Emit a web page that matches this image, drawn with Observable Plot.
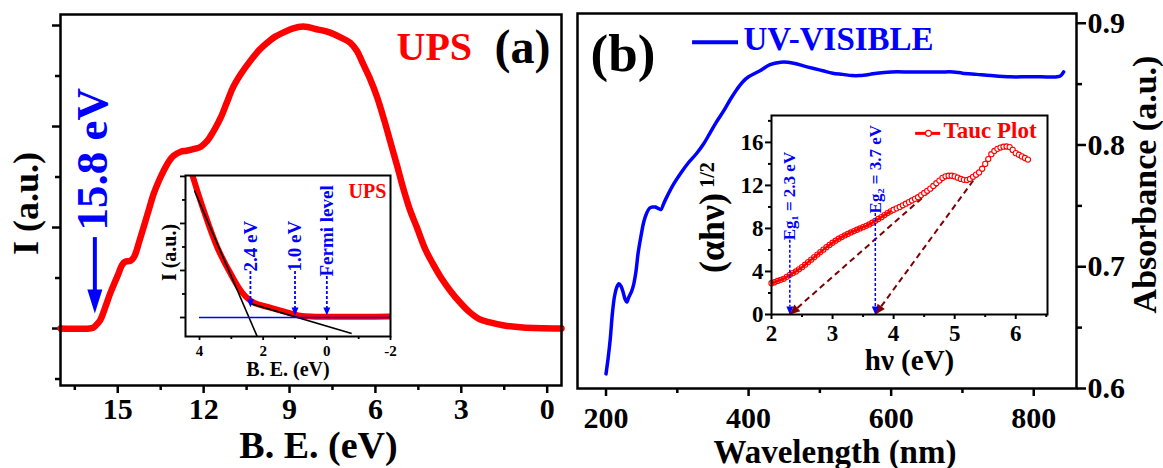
<!DOCTYPE html>
<html>
<head>
<meta charset="utf-8">
<script src="https://cdn.jsdelivr.net/npm/d3@7"></script>
<script src="https://cdn.jsdelivr.net/npm/@observablehq/plot@0.6"></script>
<style>
  body { margin: 0; background: white; }
  #c { position: relative; width: 1163px; height: 468px; background: white; overflow: hidden; }
</style>
</head>
<body>
<div id="c"></div>
<script>
// ---------------- DATA ----------------
// Panel (a): UPS spectrum, binding energy (eV) vs intensity (a.u.)
const upsBE = [17.0, 16.0, 15.85, 15.7, 15.6, 15.45, 15.26, 15.1, 14.98, 14.85, 14.75, 14.56, 14.45, 14.38, 14.25, 14.1, 13.9, 13.75, 13.55, 13.4, 13.2, 13.05, 12.8, 12.6, 12.3, 12.1, 11.9, 11.77, 11.6, 11.4, 11.2, 10.97, 10.7, 10.37, 10.05, 9.78, 9.5, 9.22, 8.9, 8.52, 8.0, 7.58, 7.2, 6.88, 6.65, 6.43, 6.2, 5.94, 5.7, 5.49, 5.25, 5.04, 4.8, 4.55, 4.25, 3.99, 3.7, 3.4, 3.05, 2.7, 2.35, 2.0, 1.5, 0.85, -0.5];
const upsI  = [0.0, 0.0, 0.01, 0.05, 0.09, 0.2, 0.35, 0.46, 0.54, 0.63, 0.66, 0.67, 0.70, 0.74, 0.86, 1.0, 1.19, 1.33, 1.47, 1.56, 1.66, 1.71, 1.75, 1.76, 1.78, 1.80, 1.85, 1.90, 1.98, 2.09, 2.23, 2.39, 2.52, 2.65, 2.76, 2.83, 2.89, 2.93, 2.97, 2.99, 2.96, 2.93, 2.88, 2.83, 2.75, 2.62, 2.48, 2.29, 2.07, 1.86, 1.62, 1.40, 1.18, 1.0, 0.78, 0.64, 0.5, 0.38, 0.26, 0.16, 0.09, 0.06, 0.03, 0.01, 0.0];
const onsetBE = 15.8;

// Inset (a): valence band edge region
const insBE = [4.30, 4.22, 3.87, 3.44, 3.03, 2.66, 2.31, 1.78, 1.25, 0.84, 0.5, -2.0];
const insI  = [3.20, 3.02, 2.28, 1.49, 0.94, 0.53, 0.32, 0.21, 0.11, 0.04, 0.02, 0.02];
const fitLines = [
  {x1: 4.16, y1: 2.70, x2: 2.19, y2: -0.40},
  {x1: 2.41, y1: 0.30, x2: -0.78, y2: -0.34}
];
const insArrowBE = [2.4, 1.0, 0.0];
const insArrowLabel = ["2.4 eV", "1.0 eV", "Fermi level"];
const insArrowTip = [0.22, 0.04, 0.04];
const insArrowTop = [0.98, 0.98, 0.87];

// Panel (b): UV-visible absorbance
const uvWl  = [200, 203, 206, 209, 212, 215, 218, 221, 224, 227, 229, 232, 236, 239, 242, 245, 249, 253, 257, 261, 265, 269, 273, 277, 281, 285, 295, 305, 315, 327, 337, 346, 355, 365, 375, 384, 392, 400, 416, 430, 445, 455, 465, 477, 490, 504, 518, 532, 545, 556, 570, 580, 600, 627, 650, 670, 687, 700, 720, 740, 767, 790, 810, 833, 838, 842];
const uvAbs = [0.612, 0.625, 0.641, 0.662, 0.676, 0.683, 0.686, 0.684, 0.679, 0.673, 0.671, 0.675, 0.680, 0.686, 0.696, 0.711, 0.725, 0.737, 0.744, 0.748, 0.749, 0.749, 0.748, 0.747, 0.752, 0.757, 0.768, 0.777, 0.785, 0.793, 0.801, 0.810, 0.819, 0.828, 0.838, 0.846, 0.852, 0.856, 0.861, 0.866, 0.868, 0.868, 0.867, 0.865, 0.863, 0.861, 0.859, 0.858, 0.857, 0.857, 0.858, 0.859, 0.860, 0.860, 0.860, 0.860, 0.860, 0.859, 0.858, 0.857, 0.856, 0.856, 0.856, 0.856, 0.857, 0.860];

// Inset (b): Tauc plot
const taucE = [2.00, 2.05, 2.10, 2.15, 2.20, 2.25, 2.30, 2.35, 2.40, 2.45, 2.50, 2.55, 2.60, 2.65, 2.70, 2.75, 2.80, 2.85, 2.90, 2.95, 3.00, 3.05, 3.10, 3.15, 3.20, 3.25, 3.30, 3.35, 3.40, 3.45, 3.50, 3.55, 3.60, 3.65, 3.70, 3.75, 3.80, 3.85, 3.90, 3.95, 4.00, 4.05, 4.10, 4.15, 4.20, 4.25, 4.30, 4.35, 4.40, 4.45, 4.50, 4.55, 4.60, 4.65, 4.70, 4.75, 4.80, 4.85, 4.90, 4.95, 5.00, 5.05, 5.10, 5.15, 5.20, 5.25, 5.30, 5.35, 5.40, 5.45, 5.50, 5.55, 5.60, 5.65, 5.70, 5.75, 5.80, 5.85, 5.90, 5.95, 6.00, 6.05, 6.10, 6.15, 6.20];
const taucV = [2.91, 3.00, 3.12, 3.22, 3.32, 3.50, 3.69, 3.85, 4.00, 4.20, 4.40, 4.63, 4.87, 5.10, 5.33, 5.57, 5.80, 6.03, 6.26, 6.47, 6.67, 6.86, 7.04, 7.20, 7.35, 7.49, 7.63, 7.76, 7.88, 8.00, 8.12, 8.24, 8.37, 8.53, 8.71, 8.88, 9.05, 9.24, 9.43, 9.59, 9.74, 9.87, 10.0, 10.15, 10.3, 10.45, 10.6, 10.75, 10.9, 11.1, 11.3, 11.5, 11.7, 11.95, 12.2, 12.45, 12.7, 12.85, 12.9, 12.9, 12.84, 12.72, 12.6, 12.52, 12.5, 12.6, 12.8, 13.0, 13.2, 13.55, 14.0, 14.45, 14.9, 15.2, 15.4, 15.52, 15.6, 15.62, 15.56, 15.3, 15.0, 14.85, 14.7, 14.55, 14.4];
const taucFits = [
  {x1: 2.3, y1: 0, x2: 4.9, y2: 13.0},
  {x1: 3.7, y1: 0, x2: 5.58, y2: 14.6}
];
const egValues = [2.3, 3.7];
const egLabels = ["Eg\u2081 = 2.3 eV", "Eg\u2082 = 3.7 eV"];
const egTop = [6.9, 9.4];

// Tick values
const aXTicks = [15, 12, 9, 6, 3, 0];
const aXMinor = [16.5, 13.5, 10.5, 7.5, 4.5, 1.5];
const aYTicks = [0, 1, 2, 3];
const aYMinor = [-0.5, 0.5, 1.5, 2.5];
const iaXTicks = [4, 2, 0, -2];
const iaXMinor = [3, 1, -1];
const iaYTicks = [0, 1, 2, 3];
const iaYMinor = [0.5, 1.5, 2.5];
const bXTicks = [200, 400, 600, 800];
const bXMinor = [300, 500, 700];
const bYTicks = [0.6, 0.7, 0.8, 0.9];
const bYMinor = [0.65, 0.75, 0.85];
const ibXTicks = [2, 3, 4, 5, 6];
const ibXMinor = [2.5, 3.5, 4.5, 5.5, 6.5];
const ibYTicks = [0, 4, 8, 12, 16];
const ibYMinor = [2, 6, 10, 14, 18];

// ---------------- BUILD ----------------
const FONT = "'Liberation Serif', 'Times New Roman', serif";
const RED = "#ff0000", BLUE = "#0000ff", MAROON = "#800000";
const ups = upsBE.map((b, i) => ({be: b, v: upsI[i]}));
const ins = insBE.map((b, i) => ({be: b, v: insI[i]}));
const uv = uvWl.map((w, i) => ({wl: w, a: uvAbs[i]}));
const tauc = taucE.map((e, i) => ({e, v: taucV[i]}));
const insArrows = insArrowBE.map((b, i) => ({be: b, tip: insArrowTip[i], top: insArrowTop[i], label: insArrowLabel[i]}));
const egArrows = egValues.map((e, i) => ({e, top: egTop[i], label: egLabels[i]}));

function style(left, top, bg) {
  return {position: "absolute", left: left + "px", top: top + "px", fontFamily: FONT, fontWeight: "bold",
          color: "black", background: bg, overflow: "visible"};
}
const noText = () => "";
const c = document.getElementById("c");

// ---- Panel (a) main ----
const A = {w: 580, h: 468, ml: 60, mr: 19, mt: 14, mb: 83};
const plotA = Plot.plot({
  width: A.w, height: A.h, marginLeft: A.ml, marginRight: A.mr, marginTop: A.mt, marginBottom: A.mb,
  x: {domain: [17, -0.5]},
  y: {domain: [-0.564, 3.109]},
  style: style(0, 0, "white"),
  marks: [
    Plot.axisX(aXTicks, {anchor: "bottom", tickSize: 8, tickPadding: 4, fontSize: 30, strokeWidth: 2.5, label: null, tickFormat: d => String(d)}),
    Plot.axisX(aXMinor, {anchor: "bottom", tickSize: 5, strokeWidth: 2.5, label: null, tickFormat: noText}),
    Plot.axisY(aYTicks, {anchor: "left", tickSize: 8, strokeWidth: 2.5, label: null, tickFormat: noText}),
    Plot.axisY(aYMinor, {anchor: "left", tickSize: 5, strokeWidth: 2.5, label: null, tickFormat: noText}),
    Plot.line(ups, {x: "be", y: "v", stroke: RED, strokeWidth: 6.5, curve: "catmull-rom"}),
    Plot.ruleX([onsetBE], {x: d => d, y1: 0.9, y2: 0.35, stroke: BLUE, strokeWidth: 4}),
    Plot.vector([onsetBE], {x: d => d, y: 0.15, length: 24, r: 7.5, rotate: 180, anchor: "end", shape: "spike", fill: BLUE, stroke: "none"}),
    Plot.text(["15.8 eV"], {text: d => d, frameAnchor: "top-left", dx: 32, dy: 216, rotate: -90, textAnchor: "start", lineAnchor: "middle", fontSize: 45, fill: BLUE}),
    Plot.text(["UPS"], {text: d => d, frameAnchor: "top-left", dx: 336, dy: 45, textAnchor: "start", lineAnchor: "bottom", fontSize: 40, fill: RED}),
    Plot.text(["(a)"], {text: d => d, frameAnchor: "top-left", dx: 434, dy: 48, textAnchor: "start", lineAnchor: "bottom", fontSize: 48, fill: "black"}),
    Plot.text(["I (a.u.)"], {text: d => d, frameAnchor: "left", dx: -34.5, dy: 3.5, rotate: -90, textAnchor: "middle", lineAnchor: "middle", fontSize: 36}),
    Plot.text(["B. E. (eV)"], {text: d => d, frameAnchor: "bottom", dx: 7.5, dy: 72, textAnchor: "middle", lineAnchor: "bottom", fontSize: 38}),
    Plot.frame({strokeWidth: 2.5})
  ]
});
c.appendChild(plotA);

// ---- Panel (a) inset ----
const IA = {left: 140, top: 165, w: 260, h: 220, ml: 45, mr: 10, mt: 10, mb: 49};
const plotIA = Plot.plot({
  width: IA.w, height: IA.h, marginLeft: IA.ml, marginRight: IA.mr, marginTop: IA.mt, marginBottom: IA.mb,
  x: {domain: [4.44, -2]},
  y: {domain: [-0.404, 3.02]},
  style: style(IA.left, IA.top, "transparent"),
  marks: [
    Plot.frame({fill: "white", stroke: "none"}),
    Plot.axisX(iaXTicks, {anchor: "bottom", tickSize: 4, tickPadding: 5, fontSize: 15, strokeWidth: 1.8, label: null, tickFormat: d => String(d)}),
    Plot.axisX(iaXMinor, {anchor: "bottom", tickSize: 3, strokeWidth: 1.8, label: null, tickFormat: noText}),
    Plot.axisY(iaYTicks, {anchor: "left", tickSize: 5, strokeWidth: 1.8, label: null, tickFormat: noText}),
    Plot.axisY(iaYMinor, {anchor: "left", tickSize: 3, strokeWidth: 1.8, label: null, tickFormat: noText}),
    Plot.line(ins, {x: "be", y: "v", stroke: RED, strokeWidth: 6, curve: "catmull-rom", clip: true}),
    Plot.link(fitLines, {x1: "x1", y1: "y1", x2: "x2", y2: "y2", stroke: "black", strokeWidth: 1.6}),
    Plot.ruleY([0], {x1: 4, x2: -2, stroke: BLUE, strokeWidth: 1.6}),
    Plot.ruleX(insArrows, {x: "be", y1: "top", y2: d => d.tip + 0.12, stroke: BLUE, strokeWidth: 1.8, strokeDasharray: "3,2"}),
    Plot.vector(insArrows, {x: "be", y: "tip", length: 8, r: 3.5, rotate: 180, anchor: "end", shape: "spike", fill: BLUE, stroke: "none"}),
    Plot.text(insArrows, {x: "be", y: "top", text: "label", rotate: -90, textAnchor: "start", lineAnchor: "middle", fontSize: 19, fill: BLUE}),
    Plot.text(["UPS"], {text: d => d, frameAnchor: "top-left", dx: 163, dy: 22, textAnchor: "start", lineAnchor: "bottom", fontSize: 20, fill: RED}),
    Plot.text(["I (a.u.)"], {text: d => d, frameAnchor: "left", dx: -16.4, dy: -3.5, rotate: -90, textAnchor: "middle", lineAnchor: "middle", fontSize: 20}),
    Plot.text(["B. E. (eV)"], {text: d => d, frameAnchor: "bottom", dy: 39, textAnchor: "middle", lineAnchor: "bottom", fontSize: 20}),
    Plot.frame({strokeWidth: 2})
  ]
});
c.appendChild(plotIA);

// ---- Panel (b) main ----
const B = {left: 570, top: 0, w: 593, h: 468, ml: 7, mr: 87, mt: 13, mb: 80};
const plotB = Plot.plot({
  width: B.w, height: B.h, marginLeft: B.ml, marginRight: B.mr, marginTop: B.mt, marginBottom: B.mb,
  x: {domain: [160, 860]},
  y: {domain: [0.6, 0.908]},
  style: style(B.left, B.top, "transparent"),
  marks: [
    Plot.axisX(bXTicks, {anchor: "bottom", tickSize: 8, tickPadding: 10, fontSize: 30, strokeWidth: 2.5, label: null, tickFormat: d => String(d)}),
    Plot.axisX(bXMinor, {anchor: "bottom", tickSize: 5, strokeWidth: 2.5, label: null, tickFormat: noText}),
    Plot.axisY(bYTicks, {anchor: "right", tickSize: 9, tickPadding: 2, fontSize: 30, strokeWidth: 2.5, label: null, tickFormat: d3.format(".1f")}),
    Plot.axisY(bYMinor, {anchor: "right", tickSize: 5, strokeWidth: 2.5, label: null, tickFormat: noText}),
    Plot.line(uv, {x: "wl", y: "a", stroke: BLUE, strokeWidth: 3.5, curve: "catmull-rom"}),
    Plot.ruleY([0.8843], {x1: 321.4, x2: 385.9, stroke: BLUE, strokeWidth: 4}),
    Plot.text(["UV-VISIBLE"], {text: d => d, frameAnchor: "top-left", dx: 166, dy: 36, textAnchor: "start", lineAnchor: "bottom", fontSize: 33, fill: BLUE}),
    Plot.text(["(b)"], {text: d => d, frameAnchor: "top-left", dx: 13, dy: 57, textAnchor: "start", lineAnchor: "bottom", fontSize: 53}),
    Plot.text(["Wavelength (nm)"], {text: d => d, frameAnchor: "bottom", dx: 8, dy: 74, textAnchor: "middle", lineAnchor: "bottom", fontSize: 33}),
    Plot.text(["Absorbance (a.u.)"], {text: d => d, frameAnchor: "right", dx: 68.5, dy: -16.5, rotate: -90, textAnchor: "middle", lineAnchor: "middle", fontSize: 34}),
    Plot.frame({strokeWidth: 2.5})
  ]
});
c.appendChild(plotB);

// ---- Panel (b) inset ----
const IB = {left: 690, top: 105, w: 370, h: 275, ml: 81, mr: 13, mt: 10, mb: 66};
const ibXDom = [2, 6.52], ibYDom = [0, 18.5];
const pxX = (IB.w - IB.ml - IB.mr) / (ibXDom[1] - ibXDom[0]);
const pxY = (IB.h - IB.mt - IB.mb) / (ibYDom[1] - ibYDom[0]);
const heads = taucFits.map(f => {
  const dx = (f.x1 - f.x2) * pxX, dy = -(f.y1 - f.y2) * pxY;
  return {x: f.x1, y: f.y1, rot: Math.atan2(dx, -dy) * 180 / Math.PI};
});
const plotIB = Plot.plot({
  width: IB.w, height: IB.h, marginLeft: IB.ml, marginRight: IB.mr, marginTop: IB.mt, marginBottom: IB.mb,
  x: {domain: ibXDom},
  y: {domain: ibYDom},
  style: style(IB.left, IB.top, "transparent"),
  marks: [
    Plot.frame({fill: "white", stroke: "none"}),
    Plot.axisX(ibXTicks, {anchor: "bottom", tickSize: 5, tickPadding: 5, fontSize: 23, strokeWidth: 2, label: null, tickFormat: d => String(d)}),
    Plot.axisX(ibXMinor, {anchor: "bottom", tickSize: 3, strokeWidth: 2, label: null, tickFormat: noText}),
    Plot.axisY(ibYTicks, {anchor: "left", tickSize: 6, tickPadding: 2, fontSize: 23, strokeWidth: 2, label: null, tickFormat: d => String(d)}),
    Plot.axisY(ibYMinor, {anchor: "left", tickSize: 3, strokeWidth: 2, label: null, tickFormat: noText}),
    Plot.link(taucFits, {x1: "x1", y1: "y1", x2: "x2", y2: "y2", stroke: MAROON, strokeWidth: 2, strokeDasharray: "6,4"}),
    Plot.vector(heads, {x: "x", y: "y", rotate: "rot", length: 10, r: 4.5, anchor: "end", shape: "spike", fill: MAROON, stroke: "none"}),
    Plot.line(tauc, {x: "e", y: "v", stroke: RED, strokeWidth: 2.5}),
    Plot.dot(tauc, {x: "e", y: "v", r: 2.6, stroke: RED, strokeWidth: 1.1, fill: d => d.e >= 4 ? "white" : "none"}),
    Plot.ruleX(egArrows, {x: "e", y1: "top", y2: 0.7, stroke: BLUE, strokeWidth: 1.5, strokeDasharray: "3,2"}),
    Plot.vector(egArrows, {x: "e", y: 0, length: 8, r: 3.5, rotate: 180, anchor: "end", shape: "spike", fill: BLUE, stroke: "none"}),
    Plot.text(egArrows, {x: "e", y: "top", text: "label", rotate: -90, textAnchor: "start", lineAnchor: "middle", fontSize: 17, fill: BLUE}),
    Plot.ruleY([16.84], {x1: 4.36, x2: 4.77, stroke: RED, strokeWidth: 3}),
    Plot.dot([4.57], {x: d => d, y: 16.84, r: 3, stroke: RED, strokeWidth: 1.2, fill: "white"}),
    Plot.text(["Tauc Plot"], {text: d => d, frameAnchor: "top-left", dx: 172, dy: 22, textAnchor: "start", lineAnchor: "bottom", fontSize: 23, fill: RED}),
    Plot.text(["h\u03bd (eV)"], {text: d => d, frameAnchor: "bottom", dy: 55, textAnchor: "middle", lineAnchor: "bottom", fontSize: 29}),
    Plot.text(["(\u03b1h\u03bd)"], {text: d => d, frameAnchor: "left", dx: -59, dy: 18, rotate: -90, textAnchor: "middle", lineAnchor: "middle", fontSize: 36}),
    Plot.text(["1/2"], {text: d => d, frameAnchor: "left", dx: -64, dy: -40, rotate: -90, textAnchor: "middle", lineAnchor: "middle", fontSize: 20}),
    Plot.frame({strokeWidth: 2})
  ]
});
c.appendChild(plotIB);
</script>
</body>
</html>
